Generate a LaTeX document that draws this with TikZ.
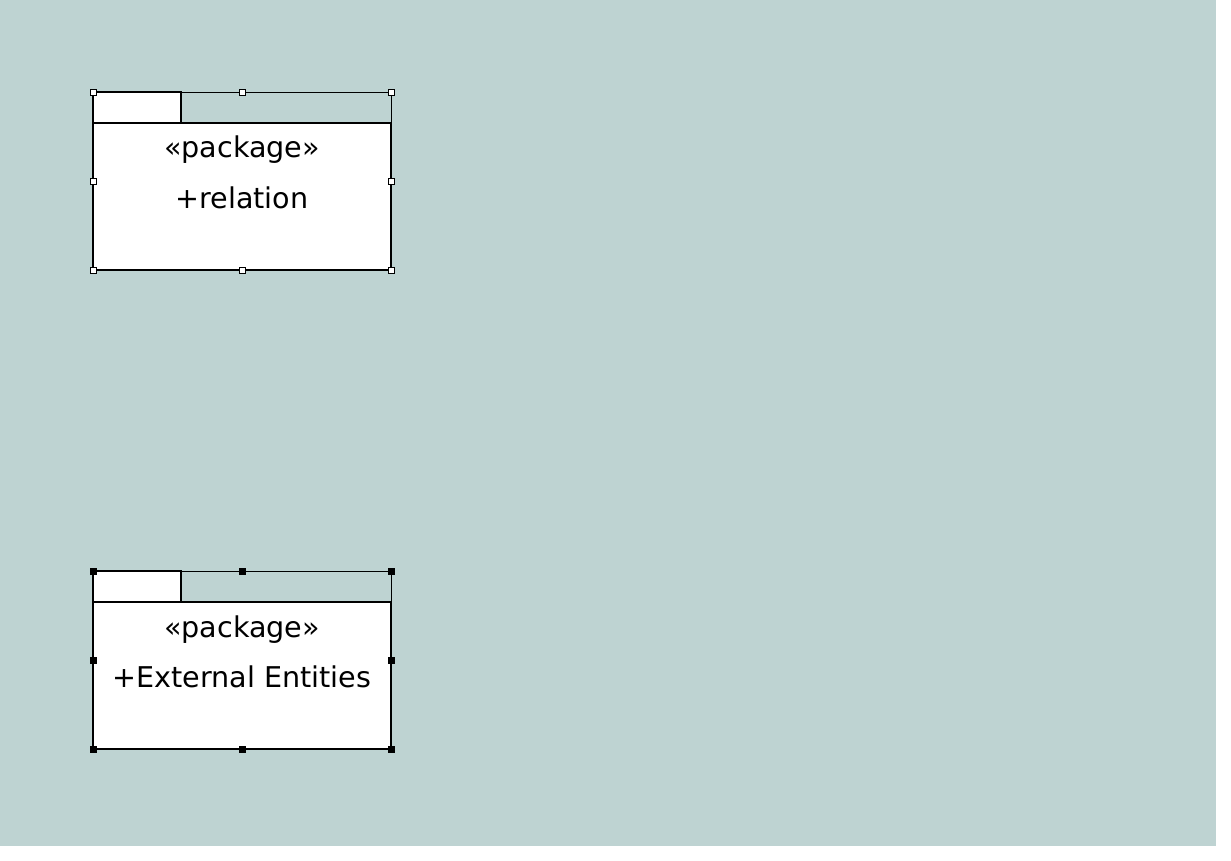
\documentclass[tikz,border=0pt]{standalone}
\usepackage{fontspec}
\setmainfont{DejaVu Sans}
\definecolor{bgteal}{RGB}{190,211,210}

\begin{document}
\begin{tikzpicture}[
  x=1pt, y=-1pt,
  pkgbody/.style={draw,fill=white,line width=2pt,minimum width=298pt,minimum height=147pt,inner sep=0pt,outer sep=0pt},
  pkgtab/.style={draw,fill=white,line width=2pt,minimum width=88pt,minimum height=31pt,inner sep=0pt,outer sep=0pt},
  pkgtext/.style={font=\fontsize{28.6}{34}\selectfont,inner sep=0pt,anchor=base},
  selline/.style={line width=0.9pt},
  handle/.style={draw,line width=0.9pt,minimum size=6pt,inner sep=0pt,fill=white},
  darkhandle/.style={handle,fill=black}
]
  \useasboundingbox (0,0) rectangle (1231,861);
  \fill[bgteal] (0,0) rectangle (1216,846);

  % package: relation
  \node[pkgtab] (relTab) at (137,107.5) {};
  \node[pkgbody] (relBody) at (242,196.5) {};
  \coordinate (relSel) at (391,92);
  \draw[selline] (relTab.north east) -- (relSel) -- (relBody.north east);
  \node[pkgtext] (relStereo) at (242,158) {«package»};
  \node[pkgtext] (relName) at (242,208) {+relation};
  \foreach \hx/\hy [count=\i] in {93/92,242/92,391/92,93/181,391/181,93/270,242/270,391/270}
    \node[handle] (relH\i) at (\hx,\hy) {};

  % package: external entities
  \node[pkgtab] (extTab) at (137,586.5) {};
  \node[pkgbody] (extBody) at (242,675.5) {};
  \coordinate (extSel) at (391,571);
  \draw[selline] (extTab.north east) -- (extSel) -- (extBody.north east);
  \node[pkgtext] (extStereo) at (242,637) {«package»};
  \node[pkgtext] (extName) at (242,687) {+External Entities};
  \foreach \hx/\hy [count=\i] in {93/571,242/571,391/571,93/660,391/660,93/749,242/749,391/749}
    \node[darkhandle] (extH\i) at (\hx,\hy) {};
\end{tikzpicture}
\end{document}
